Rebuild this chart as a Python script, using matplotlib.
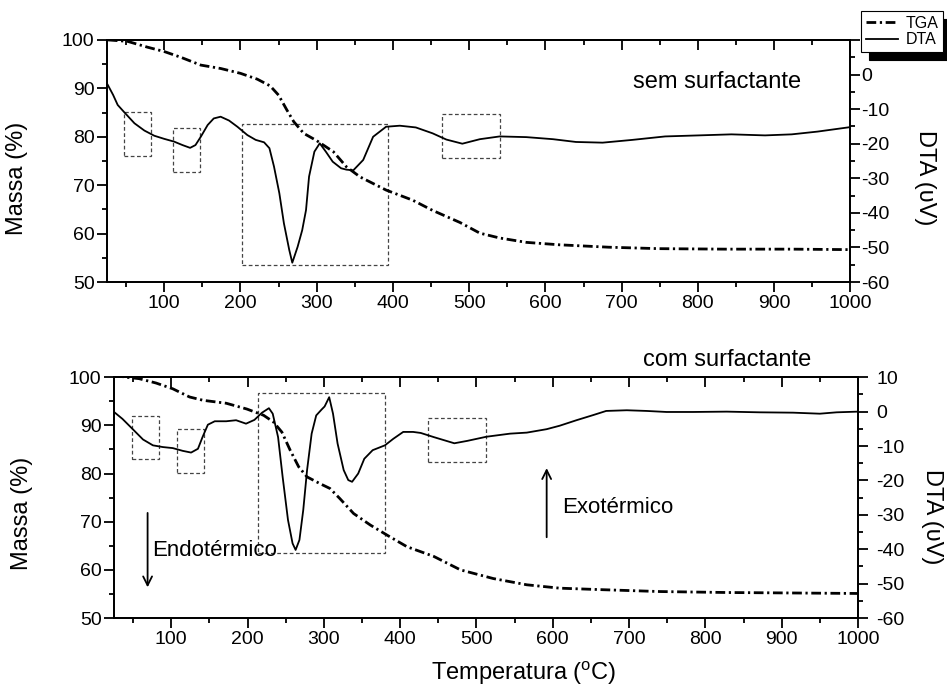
import numpy as np
import matplotlib
matplotlib.use("Agg")
import matplotlib.pyplot as plt
from matplotlib.patches import Rectangle
from matplotlib.ticker import MultipleLocator

plt.rcParams['font.family'] = 'Liberation Sans'
plt.rcParams['mathtext.fontset'] = 'custom'
plt.rcParams['mathtext.rm'] = 'Liberation Sans'
plt.rcParams['mathtext.it'] = 'Liberation Sans:italic'
plt.rcParams['axes.unicode_minus'] = False

# amostra sem surfactante
temp_tga_sem = [26, 52, 78, 100, 122, 148, 174, 200, 222, 239, 250, 261, 270, 283, 300,
                322, 339, 357, 391, 426, 452, 488, 514, 540, 575, 618, 683, 749, 836, 923, 1000]
tga_sem = [100.0, 99.7, 98.5, 97.6, 96.4, 94.8, 94.1, 93.1, 91.9, 90.5, 88.6, 85.5, 83.1, 80.7, 79.2,
           76.9, 73.8, 71.7, 69.0, 66.9, 64.8, 62.3, 60.1, 59.1, 58.2, 57.7, 57.2, 56.9, 56.8, 56.8, 56.7]

temp_dta_sem = [26, 33, 39, 48, 61, 74, 87, 100, 113, 124, 134, 141, 148, 157, 165, 174, 185, 196,
                209, 220, 231, 238, 244, 251, 257, 264, 268, 275, 281, 286, 290, 297, 304, 312, 321,
                332, 339, 348, 361, 374, 391, 409, 430, 452, 470, 491, 514, 540, 575, 610, 640, 675,
                714, 757, 801, 844, 888, 923, 957, 1000]
dta_sem = [-3.0, -5.9, -8.8, -11.0, -14.1, -16.2, -17.7, -18.6, -19.4, -20.4, -21.2, -20.4, -18.0,
           -14.6, -12.7, -12.2, -13.3, -15.1, -17.5, -18.9, -19.6, -21.3, -26.6, -34.3, -43.0, -50.7,
           -54.4, -49.8, -45.0, -39.2, -29.5, -22.3, -19.9, -22.3, -25.2, -27.1, -27.5, -27.7, -24.7,
           -18.0, -15.1, -14.8, -15.3, -17.0, -18.8, -20.0, -18.7, -17.9, -18.1, -18.7, -19.5, -19.7,
           -18.9, -17.9, -17.6, -17.3, -17.6, -17.3, -16.5, -15.2]

# amostra com surfactante
temp_tga_com = [25, 41, 58, 80, 102, 124, 142, 172, 199, 221, 234, 245, 256, 267, 278, 295, 308,
                321, 339, 361, 383, 409, 444, 479, 522, 566, 609, 662, 740, 828, 915, 1000]
tga_com = [100.4, 100.0, 99.7, 98.8, 97.6, 95.9, 95.2, 94.6, 93.4, 92.1, 90.7, 88.6, 84.8, 81.4, 79.3,
           77.9, 76.9, 74.8, 71.7, 69.3, 67.2, 64.8, 62.8, 60.0, 58.2, 56.9, 56.2, 55.9, 55.5, 55.3,
           55.2, 55.1]

temp_dta_com = [25, 36, 50, 63, 76, 89, 102, 115, 126, 135, 141, 148, 157, 172, 185, 198, 209, 219,
                228, 233, 240, 246, 253, 259, 263, 268, 273, 278, 284, 290, 297, 301, 307, 312, 318,
                326, 332, 337, 345, 353, 364, 380, 391, 404, 417, 427, 444, 471, 488, 513, 544, 566,
                592, 609, 631, 653, 670, 697, 723, 749, 784, 828, 871, 915, 950, 972, 1000]
dta_com = [-0.1, -2.1, -5.2, -8.1, -9.8, -10.3, -10.6, -11.4, -11.9, -10.8, -7.4, -3.8, -2.8, -2.8,
           -2.5, -3.5, -2.4, -0.3, 1.0, -0.6, -7.4, -19.0, -31.5, -38.3, -40.2, -37.3, -28.6, -17.0,
           -6.4, -1.1, 0.6, 1.5, 4.2, -0.6, -9.3, -17.0, -19.9, -20.4, -18.0, -13.7, -11.2, -9.8,
           -7.9, -5.9, -5.9, -6.2, -7.4, -9.2, -8.5, -7.3, -6.4, -6.1, -5.1, -4.1, -2.5, -1.0, 0.2,
           0.4, 0.2, -0.1, -0.1, 0.0, -0.2, -0.3, -0.6, -0.2, 0.0]

# regioes destacadas (T0, T1, massa0, massa1)
caixas_sem = [(47, 83, 76.1, 85.2), (111, 147, 72.7, 81.8), (202, 394, 53.5, 82.6), (465, 541, 75.7, 84.6)]
caixas_com = [(48, 84, 83.0, 91.9), (108, 143, 80.2, 89.3), (214, 380, 63.5, 96.8), (437, 513, 82.4, 91.5)]

LW_EIXO = 1.3


def painel(ax, t_tga, tga, t_dta, dta, caixas, pad_dir):
    l_tga, = ax.plot(t_tga, tga, color='k', lw=2.0, dashes=(3.5, 1.3, 0.8, 1.3))
    for x0, x1, y0, y1 in caixas:
        ax.add_patch(Rectangle((x0, y0), x1 - x0, y1 - y0, fill=False, edgecolor='#444444',
                               lw=0.9, ls=(0, (3, 2))))
    ax.set_xlim(25, 1000)
    ax.set_ylim(50, 100)
    ax.xaxis.set_major_locator(MultipleLocator(100))
    ax.xaxis.set_minor_locator(MultipleLocator(50))
    ax.yaxis.set_major_locator(MultipleLocator(10))
    ax.yaxis.set_minor_locator(MultipleLocator(5))
    ax.tick_params(which='both', direction='out', top=False, right=False, width=LW_EIXO)
    ax.tick_params(which='major', length=7, labelsize=14, pad=2)
    ax.tick_params(which='minor', length=3.5)

    # ticks para dentro no topo
    topo = ax.secondary_xaxis('top')
    topo.xaxis.set_major_locator(MultipleLocator(100))
    topo.xaxis.set_minor_locator(MultipleLocator(50))
    topo.tick_params(which='both', direction='in', labeltop=False, width=LW_EIXO)
    topo.tick_params(which='major', length=7)
    topo.tick_params(which='minor', length=3.5)
    topo.spines['top'].set_linewidth(LW_EIXO)

    tw = ax.twinx()
    l_dta, = tw.plot(t_dta, dta, color='k', lw=1.3)
    tw.set_ylim(-60, 10)
    tw.yaxis.set_major_locator(MultipleLocator(10))
    tw.yaxis.set_minor_locator(MultipleLocator(5))
    tw.tick_params(which='both', direction='out', width=LW_EIXO)
    tw.tick_params(which='major', length=7, labelsize=14, pad=pad_dir)
    tw.tick_params(which='minor', length=3.5)

    for a in (ax, tw):
        for s in a.spines.values():
            s.set_linewidth(LW_EIXO)

    ax.set_ylabel('Massa (%)', fontsize=17)
    tw.set_ylabel('DTA (υV)', fontsize=17, rotation=-90, va='center')
    return tw, l_tga, l_dta


fig = plt.figure(figsize=(9.47, 6.88), dpi=100)
ax1 = fig.add_axes([0.113, 0.590, 0.785, 0.352])
ax2 = fig.add_axes([0.1204, 0.1017, 0.7856, 0.350])

tw1, l_tga, l_dta = painel(ax1, temp_tga_sem, tga_sem, temp_dta_sem, dta_sem, caixas_sem, 1)
tw2, _, _ = painel(ax2, temp_tga_com, tga_com, temp_dta_com, dta_com, caixas_com, 6)

ax1.yaxis.set_label_coords(-0.106, 0.43)
tw1.yaxis.set_label_coords(1.101, 0.43)
ax2.yaxis.set_label_coords(-0.109, 0.436)
tw2.yaxis.set_label_coords(1.099, 0.42)

ax2.set_xlabel('Temperatura ($^{\\mathrm{o}}$C)', fontsize=17)
ax2.xaxis.set_label_coords(0.551, -0.175)

ax1.text(0.82, 0.826, 'sem surfactante', transform=ax1.transAxes, fontsize=17,
         ha='center', va='center')
ax2.text(0.824, 1.07, 'com surfactante', transform=ax2.transAxes, fontsize=17,
         ha='center', va='center')

ax2.text(0.051, 0.282, 'Endotérmico', transform=ax2.transAxes, fontsize=16, va='center')
ax2.annotate('', xy=(69, 55.8), xytext=(69, 72.4),
             arrowprops=dict(arrowstyle='->', color='k', lw=1.3, mutation_scale=16))
ax2.text(0.602, 0.46, 'Exotérmico', transform=ax2.transAxes, fontsize=16, va='center')
ax2.annotate('', xy=(592, 81.7), xytext=(592, 66.2),
             arrowprops=dict(arrowstyle='->', color='k', lw=1.3, mutation_scale=16))

leg = fig.legend(handles=[l_tga, l_dta], labels=['TGA', 'DTA'], loc='upper left',
                 bbox_to_anchor=(0.909, 0.984), fontsize=11.5, frameon=True, fancybox=False,
                 edgecolor='k', framealpha=1,
                 shadow={'ox': 5.8, 'oy': -5.8, 'shade': 1.0, 'alpha': 1.0},
                 handlelength=2.0, handletextpad=0.5, borderpad=0.3, labelspacing=0.1,
                 borderaxespad=0)
leg.get_frame().set_linewidth(0.8)

plt.savefig("out.png", dpi=100)
